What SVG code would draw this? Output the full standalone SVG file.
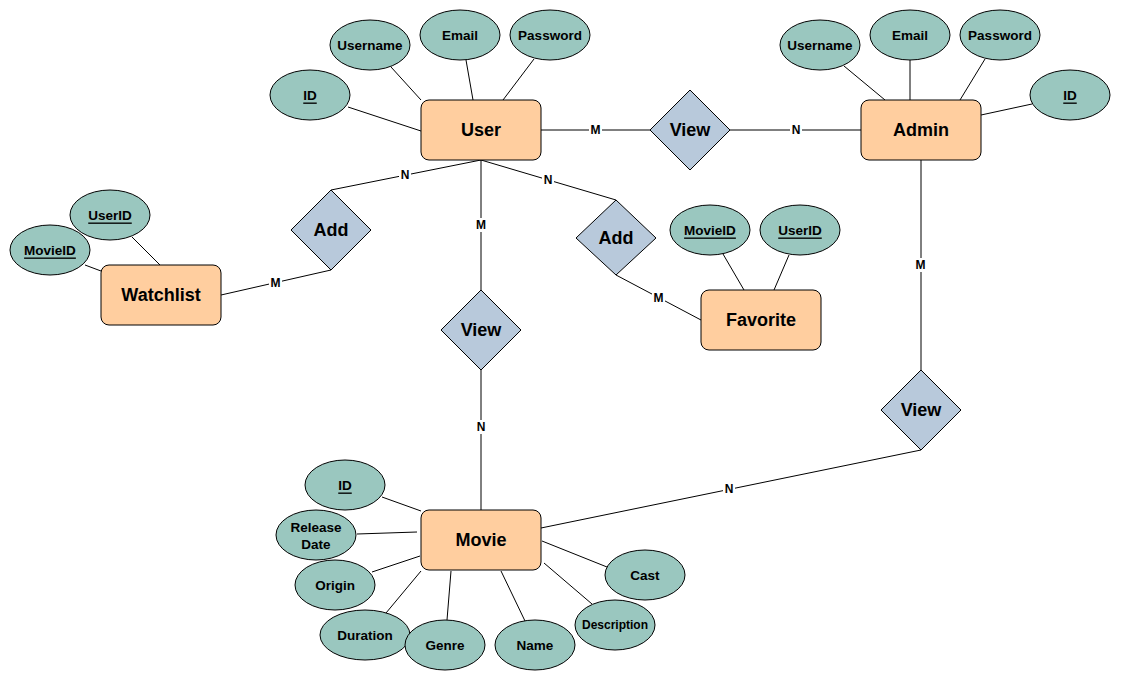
<svg xmlns="http://www.w3.org/2000/svg" width="1121" height="682" viewBox="0 0 1121 682">
  <style>
    .entity rect { fill: #FFCE9F; stroke: #000; stroke-width: 1; }
    .entity text { font: bold 18px "Liberation Sans", Arial, sans-serif; fill: #000; text-anchor: middle; dominant-baseline: central; }
    .attr ellipse { fill: #9AC7BF; stroke: #000; stroke-width: 1; }
    .attr text { font: bold 13.5px "Liberation Sans", Arial, sans-serif; fill: #000; text-anchor: middle; dominant-baseline: central; }
    .attr.key text { text-decoration: underline; }
    .attr.small text { font-size: 12px; }
    .rel polygon { fill: #B8C9DB; stroke: #000; stroke-width: 1; }
    .rel text { font: bold 18px "Liberation Sans", Arial, sans-serif; fill: #000; text-anchor: middle; dominant-baseline: central; }
    #connectors line, #connectors polyline { stroke: #000; stroke-width: 1; fill: none; }
    .card rect { fill: #fff; }
    .card text { font: bold 12px "Liberation Sans", Arial, sans-serif; fill: #000; text-anchor: middle; dominant-baseline: central; }
  </style>

  <rect width="1121" height="682" fill="#fff"/>

  <!-- connectors (drawn first so shapes sit on top) -->
  <g id="connectors">
    <!-- User attributes -->
    <line x1="348" y1="107" x2="421" y2="131"/>
    <line x1="391" y1="67" x2="421" y2="100"/>
    <line x1="466" y1="60" x2="473" y2="100"/>
    <line x1="534" y1="59" x2="503" y2="100"/>
    <!-- Admin attributes -->
    <line x1="844" y1="66" x2="885" y2="100"/>
    <line x1="910" y1="60" x2="910" y2="100"/>
    <line x1="985" y1="59" x2="960" y2="100"/>
    <line x1="1032" y1="104" x2="981" y2="115"/>
    <!-- Watchlist attributes -->
    <line x1="132" y1="237" x2="160" y2="265"/>
    <line x1="85" y1="265" x2="101" y2="271"/>
    <!-- Favorite attributes -->
    <line x1="723" y1="254" x2="744" y2="290"/>
    <line x1="789" y1="255" x2="774" y2="290"/>
    <!-- Movie attributes -->
    <line x1="382" y1="497" x2="421" y2="511"/>
    <line x1="357" y1="534" x2="417" y2="532"/>
    <line x1="372" y1="572" x2="420" y2="556"/>
    <line x1="386" y1="613" x2="421" y2="571"/>
    <line x1="447" y1="620" x2="451" y2="571"/>
    <line x1="525" y1="621" x2="501" y2="571"/>
    <line x1="592" y1="604" x2="544" y2="563"/>
    <line x1="607" y1="567" x2="542" y2="541"/>
    <!-- relationships -->
    <line x1="541" y1="130" x2="650" y2="130"/>
    <line x1="730" y1="130" x2="861" y2="130"/>
    <line x1="481" y1="160" x2="331" y2="190"/>
    <line x1="221" y1="295" x2="331" y2="270"/>
    <line x1="481" y1="160" x2="616" y2="200"/>
    <line x1="616" y1="275" x2="701" y2="320"/>
    <line x1="481" y1="160" x2="481" y2="290"/>
    <line x1="481" y1="370" x2="481" y2="510"/>
    <line x1="921" y1="160" x2="921" y2="370"/>
    <line x1="921" y1="450" x2="541" y2="528"/>
  </g>

  <!-- cardinality labels -->
  <g id="cardinalities" class="card">
    <rect x="589" y="123" width="13" height="14"/><text x="595.5" y="130">M</text>
    <rect x="790" y="123" width="12" height="14"/><text x="796" y="130">N</text>
    <rect x="399" y="168" width="12" height="14"/><text x="405" y="175">N</text>
    <rect x="269" y="276" width="13" height="14"/><text x="275.5" y="283">M</text>
    <rect x="542" y="173" width="12" height="14"/><text x="548" y="180">N</text>
    <rect x="652" y="291" width="13" height="14"/><text x="658.5" y="298">M</text>
    <rect x="475" y="218" width="13" height="14"/><text x="481" y="225">M</text>
    <rect x="475" y="420" width="12" height="14"/><text x="481" y="427">N</text>
    <rect x="914" y="258" width="13" height="14"/><text x="920.5" y="265">M</text>
    <rect x="723" y="482" width="12" height="14"/><text x="729" y="489">N</text>
  </g>

  <!-- User -->
  <g id="user" class="entity"><rect x="421" y="100" width="120" height="60" rx="8"/><text x="481" y="130">User</text></g>
  <g id="user-id" class="attr key"><ellipse cx="310" cy="95" rx="40" ry="25"/><text x="310" y="95">ID</text></g>
  <g id="user-username" class="attr"><ellipse cx="370" cy="45" rx="40" ry="25"/><text x="370" y="45">Username</text></g>
  <g id="user-email" class="attr"><ellipse cx="460" cy="35" rx="40" ry="25"/><text x="460" y="35">Email</text></g>
  <g id="user-password" class="attr"><ellipse cx="550" cy="35" rx="40" ry="25"/><text x="550" y="35">Password</text></g>

  <!-- Admin -->
  <g id="admin" class="entity"><rect x="861" y="100" width="120" height="60" rx="8"/><text x="921" y="130">Admin</text></g>
  <g id="admin-username" class="attr"><ellipse cx="820" cy="45" rx="40" ry="25"/><text x="820" y="45">Username</text></g>
  <g id="admin-email" class="attr"><ellipse cx="910" cy="35" rx="40" ry="25"/><text x="910" y="35">Email</text></g>
  <g id="admin-password" class="attr"><ellipse cx="1000" cy="35" rx="40" ry="25"/><text x="1000" y="35">Password</text></g>
  <g id="admin-id" class="attr key"><ellipse cx="1070" cy="95" rx="40" ry="25"/><text x="1070" y="95">ID</text></g>

  <!-- Watchlist -->
  <g id="watchlist" class="entity"><rect x="101" y="265" width="120" height="60" rx="8"/><text x="161" y="295">Watchlist</text></g>
  <g id="watchlist-userid" class="attr key"><ellipse cx="110" cy="215" rx="40" ry="25"/><text x="110" y="215">UserID</text></g>
  <g id="watchlist-movieid" class="attr key"><ellipse cx="50" cy="250" rx="40" ry="25"/><text x="50" y="250">MovieID</text></g>

  <!-- Favorite -->
  <g id="favorite" class="entity"><rect x="701" y="290" width="120" height="60" rx="8"/><text x="761" y="320">Favorite</text></g>
  <g id="favorite-movieid" class="attr key"><ellipse cx="710" cy="230" rx="40" ry="25"/><text x="710" y="230">MovieID</text></g>
  <g id="favorite-userid" class="attr key"><ellipse cx="800" cy="230" rx="40" ry="25"/><text x="800" y="230">UserID</text></g>

  <!-- Movie -->
  <g id="movie" class="entity"><rect x="421" y="510" width="120" height="60" rx="8"/><text x="481" y="540">Movie</text></g>
  <g id="movie-id" class="attr key"><ellipse cx="345" cy="485" rx="40" ry="25"/><text x="345" y="485">ID</text></g>
  <g id="movie-release" class="attr"><ellipse cx="316" cy="535" rx="40" ry="25"/><text x="316" y="527">Release</text><text x="316" y="544">Date</text></g>
  <g id="movie-origin" class="attr"><ellipse cx="335" cy="585" rx="40" ry="25"/><text x="335" y="585">Origin</text></g>
  <g id="movie-duration" class="attr"><ellipse cx="365" cy="635" rx="45" ry="25"/><text x="365" y="635">Duration</text></g>
  <g id="movie-genre" class="attr"><ellipse cx="445" cy="645" rx="40" ry="25"/><text x="445" y="645">Genre</text></g>
  <g id="movie-name" class="attr"><ellipse cx="535" cy="645" rx="40" ry="25"/><text x="535" y="645">Name</text></g>
  <g id="movie-description" class="attr small"><ellipse cx="615" cy="625" rx="40" ry="25"/><text x="615" y="625">Description</text></g>
  <g id="movie-cast" class="attr"><ellipse cx="645" cy="575" rx="40" ry="25"/><text x="645" y="575">Cast</text></g>

  <!-- Relationships -->
  <g id="rel-user-admin-view" class="rel"><polygon points="690,90 730,130 690,170 650,130"/><text x="690" y="130">View</text></g>
  <g id="rel-watchlist-add" class="rel"><polygon points="331,190 371,230 331,270 291,230"/><text x="331" y="230">Add</text></g>
  <g id="rel-favorite-add" class="rel"><polygon points="616,200 656,238 616,275 576,238"/><text x="616" y="238">Add</text></g>
  <g id="rel-user-movie-view" class="rel"><polygon points="481,290 521,330 481,370 441,330"/><text x="481" y="330">View</text></g>
  <g id="rel-admin-movie-view" class="rel"><polygon points="921,370 961,410 921,450 881,410"/><text x="921" y="410">View</text></g>
</svg>
